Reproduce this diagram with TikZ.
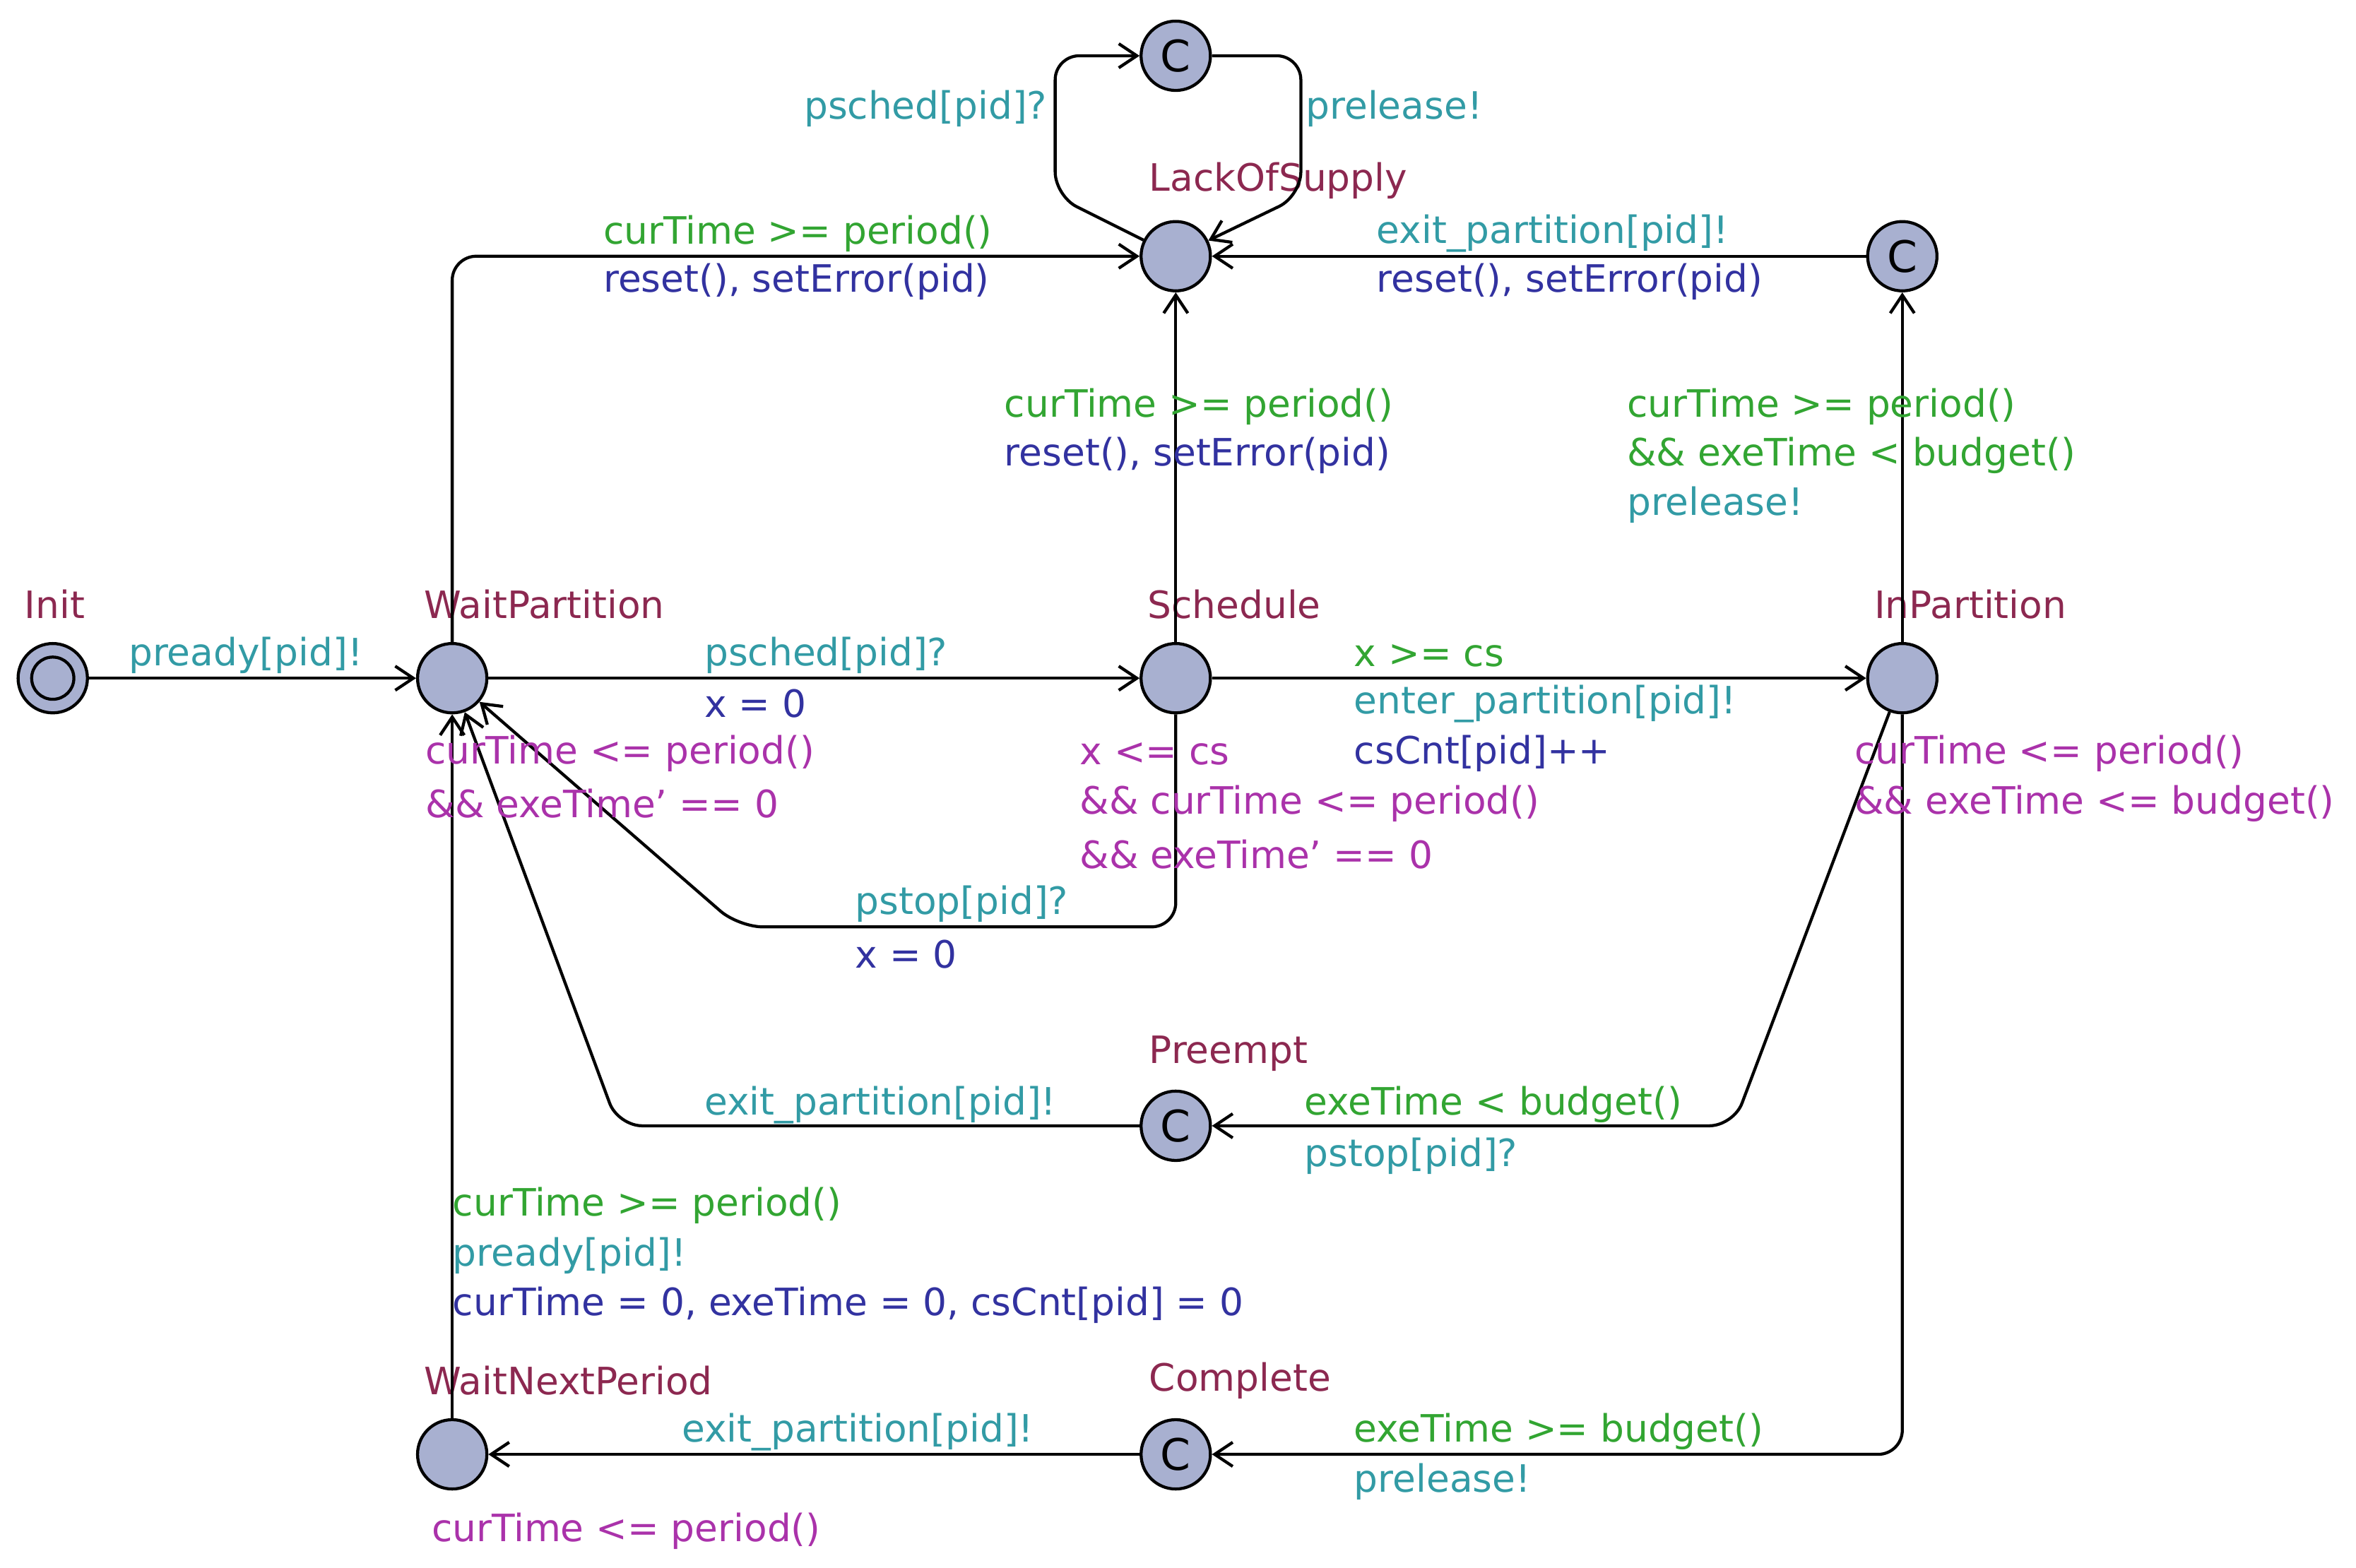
\documentclass[tikz,border=0pt]{standalone}
\usepackage{fontspec}
\setmainfont{DejaVu Sans}
\usetikzlibrary{arrows.meta}
\definecolor{cname}{RGB}{140,40,80}
\definecolor{cgrd}{RGB}{50,165,50}
\definecolor{csync}{RGB}{50,155,165}
\definecolor{cupd}{RGB}{50,50,160}
\definecolor{cinv}{RGB}{170,50,170}
\definecolor{cfill}{RGB}{168,176,208}
\begin{document}
\begin{tikzpicture}[x=0.5pt,y=-0.5pt,
 loc/.style={circle,draw,line width=1pt,fill=cfill,minimum size=23pt,inner sep=0pt},
 lbl/.style={anchor=west,inner sep=0pt,font=\fontsize{12.5}{14}\selectfont},
 nm/.style={lbl,text=cname}, gd/.style={lbl,text=cgrd}, sy/.style={lbl,text=csync},
 up/.style={lbl,text=cupd}, iv/.style={lbl,text=cinv},
 e/.style={line width=1pt,-{Straight Barb[length=6pt,width=8pt]},rounded corners=8pt}]
\useasboundingbox (0,0) rectangle (1563,1040);
\node[loc] (init) at (35,450) {};
\draw[line width=1pt] (init.center) circle (7pt);
\node[loc] (wp) at (300,450) {};
\node[loc] (sch) at (780,450) {};
\node[loc] (ip) at (1262,450) {};
\node[loc] (los) at (780,170) {};
\node[loc] (ct) at (780,37) {\Large C};
\node[loc] (cr) at (1262,170) {\Large C};
\node[loc] (pre) at (780,747) {\Large C};
\node[loc] (cmp) at (780,965) {\Large C};
\node[loc] (wnp) at (300,965) {};
\node[nm] at (16,401) {Init};
\node[nm] at (281,401) {WaitPartition};
\node[nm] at (761,401) {Schedule};
\node[nm] at (1243,401) {InPartition};
\node[nm] at (762,120) {LackOfSupply};
\node[nm] at (762,699) {Preempt};
\node[nm] at (762,916) {Complete};
\node[nm] at (281,916) {WaitNextPeriod};
\draw[e] (init) -- (wp);
\node[sy] at (85,435) {pready[pid]!};
\draw[e] (wp) -- (300,170) -- (los);
\node[gd] at (400,155) {curTime >= period()};
\node[up] at (400,187) {reset(), setError(pid)};
\draw[e] (wp) -- (sch);
\node[sy] at (467,435) {psched[pid]?};
\node[up] at (467,467) {x = 0};
\draw[e] (sch) -- (los);
\node[gd] at (666,270) {curTime >= period()};
\node[up] at (666,302) {reset(), setError(pid)};
\draw[e] (sch) -- (ip);
\node[gd] at (898,435) {x >= cs};
\node[sy] at (898,467) {enter\_partition[pid]!};
\node[up] at (898,500) {csCnt[pid]++};
\draw[e] (sch) -- (780,615) -- (490,615) -- (wp);
\node[sy] at (567,600) {pstop[pid]?};
\node[up] at (567,633) {x = 0};
\draw[e] (ip) -- (cr);
\node[gd] at (1079,270) {curTime >= period()};
\node[gd] at (1079,302) {\&\& exeTime < budget()};
\node[sy] at (1079,335) {prelease!};
\draw[e] (cr) -- (los);
\node[sy] at (913,155) {exit\_partition[pid]!};
\node[up] at (913,187) {reset(), setError(pid)};
\draw[e] (los) -- (700,130) -- (700,37) -- (ct);
\node[sy] at (533,72) {psched[pid]?};
\draw[e] (ct) -- (863,37) -- (863,130) -- (los);
\node[sy] at (866,72) {prelease!};
\draw[e] (ip) -- (1150,747) -- (pre);
\node[gd] at (865,733) {exeTime < budget()};
\node[sy] at (865,767) {pstop[pid]?};
\draw[e] (pre) -- (410,747) -- (wp);
\node[sy] at (467,733) {exit\_partition[pid]!};
\draw[e] (ip) -- (1262,965) -- (cmp);
\node[gd] at (898,950) {exeTime >= budget()};
\node[sy] at (898,983) {prelease!};
\draw[e] (cmp) -- (wnp);
\node[sy] at (452,950) {exit\_partition[pid]!};
\draw[e] (wnp) -- (wp);
\node[gd] at (300,800) {curTime >= period()};
\node[sy] at (300,833) {pready[pid]!};
\node[up] at (300,866) {curTime = 0, exeTime = 0, csCnt[pid] = 0};
\node[iv] at (282,500) {curTime <= period()};
\node[iv] at (282,533) {\&\& exeTime' == 0};
\node[iv] at (716,500) {x <= cs};
\node[iv] at (716,533) {\&\& curTime <= period()};
\node[iv] at (716,567) {\&\& exeTime' == 0};
\node[iv] at (1230,500) {curTime <= period()};
\node[iv] at (1230,533) {\&\& exeTime <= budget()};
\node[iv] at (286,1016) {curTime <= period()};
\end{tikzpicture}
\end{document}
